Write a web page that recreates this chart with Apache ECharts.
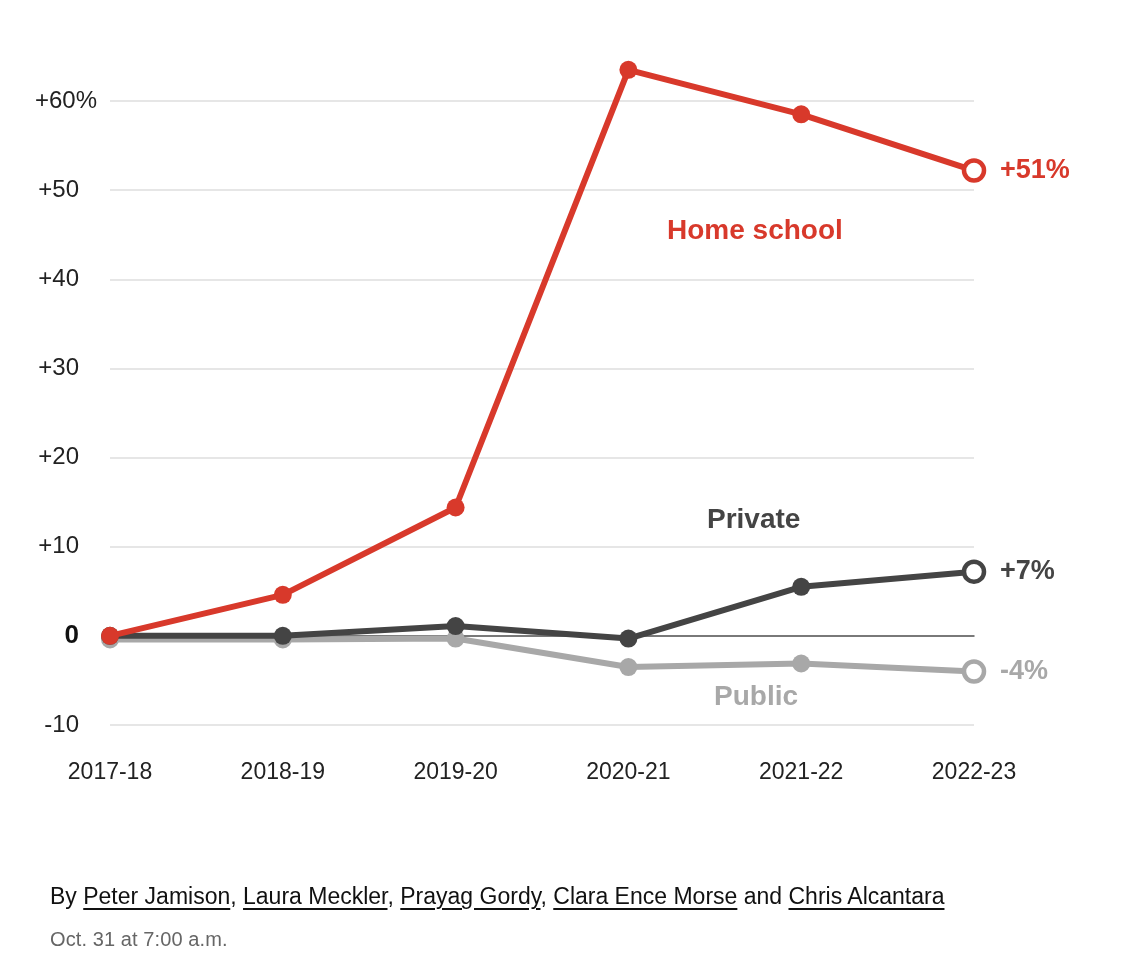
<!DOCTYPE html>
<html>
<head>
<meta charset="utf-8">
<script src="https://cdn.jsdelivr.net/npm/echarts@6/dist/echarts.min.js"></script>
<style>
  html, body { margin: 0; padding: 0; background: #fff; }
  #chart { position: absolute; left: 0; top: 0; width: 1146px; height: 962px; }
  #byline { position: absolute; left: 50px; top: 883px; font-family: "Liberation Sans", Arial, sans-serif; font-size: 23px; color: #111; letter-spacing: 0px; white-space: nowrap; }
  #byline a { color: #111; text-decoration: underline; text-underline-offset: 4px; text-decoration-thickness: 1.5px; }
  #date { position: absolute; left: 50px; top: 928px; font-family: "Liberation Sans", Arial, sans-serif; font-size: 20px; color: #666; letter-spacing: 0.1px; white-space: nowrap; }
</style>
</head>
<body>
<div id="chart"></div>
<div id="byline">By <a>Peter Jamison</a>, <a>Laura Meckler</a>, <a>Prayag Gordy</a>, <a>Clara Ence Morse</a> and <a>Chris Alcantara</a></div>
<div id="date">Oct. 31 at 7:00 a.m.</div>
<script>
// ---- data ----
const categories = ['2017-18', '2018-19', '2019-20', '2020-21', '2021-22', '2022-23'];
const homeSchool = [0, 4.6, 14.4, 63.5, 58.5, 52.2];
const privateSchool = [0, 0, 1.1, -0.3, 5.5, 7.2];
const publicSchool = [-0.4, -0.4, -0.3, -3.5, -3.1, -4.0];
const seriesNames = ['Home school', 'Private', 'Public'];
const endLabels = ['+51%', '+7%', '-4%'];
const yTickValues = [-10, 0, 10, 20, 30, 40, 50, 60];
const yTickLabels = ['-10', '0', '+10', '+20', '+30', '+40', '+50', '+60%'];

// ---- styles ----
const colors = ['#d8392b', '#444444', '#a8a8a8'];
const font = '"Liberation Sans", Arial, sans-serif';

function makeData(vals, color) {
  return vals.map((v, i) => {
    if (i === vals.length - 1) {
      return { value: v, symbolSize: 20, itemStyle: { color: '#fff', borderColor: color, borderWidth: 4.5 } };
    }
    return { value: v, symbolSize: 18, itemStyle: { color: color, borderWidth: 0 } };
  });
}

function makeSeries(name, vals, color, endText, z) {
  return {
    name: name,
    type: 'line',
    data: makeData(vals, color),
    symbol: 'circle',
    clip: false,
    z: z,
    lineStyle: { color: color, width: 6 },
    itemStyle: { color: color },
    emphasis: { disabled: true },
    endLabel: {
      show: true,
      formatter: endText,
      color: color,
      fontFamily: font,
      fontWeight: 'bold',
      fontSize: 27,
      distance: 26
    }
  };
}

const chart = echarts.init(document.getElementById('chart'), null, { renderer: 'canvas' });

const option = {
  animation: false,
  backgroundColor: '#fff',
  grid: { left: 110, right: 172, top: 101, bottom: 237, containLabel: false },
  xAxis: {
    type: 'category',
    data: categories,
    boundaryGap: false,
    axisLine: { show: true, onZero: true, lineStyle: { color: '#555', width: 1.5 } },
    axisTick: { show: false },
    splitLine: { show: false },
    axisLabel: {
      color: '#222',
      fontFamily: font,
      fontSize: 23,
      margin: 36,
      interval: 0
    }
  },
  yAxis: {
    type: 'value',
    min: -10,
    max: 60,
    interval: 10,
    axisLine: { show: false },
    axisTick: { show: false },
    splitLine: { show: true, lineStyle: { color: '#e6e6e6', width: 2 } },
    axisLabel: {
      align: 'right',
      margin: 13,
      color: '#222',
      fontFamily: font,
      fontSize: 24,
      formatter: function (v) {
        const idx = yTickValues.indexOf(v);
        const txt = idx >= 0 ? yTickLabels[idx] : '';
        if (txt.endsWith('%')) return '{n|' + txt + '}';
        if (v === 0) return '{z|' + txt + '}';
        return '{r|' + txt + '}';
      },
      rich: {
        n: { fontFamily: font, fontSize: 24, color: '#222' },
        r: { fontFamily: font, fontSize: 24, color: '#222', padding: [0, 18, 0, 0] },
        z: { fontFamily: font, fontSize: 26, color: '#111', fontWeight: 'bold', padding: [0, 18, 0, 0] }
      }
    }
  },
  series: [
    makeSeries(seriesNames[2], publicSchool, colors[2], endLabels[2], 2),
    makeSeries(seriesNames[1], privateSchool, colors[1], endLabels[1], 3),
    makeSeries(seriesNames[0], homeSchool, colors[0], endLabels[0], 4)
  ],
  graphic: [
    { type: 'text', left: 667, top: 217, style: { text: seriesNames[0], fill: colors[0], font: 'bold 28px ' + font } },
    { type: 'text', left: 707, top: 506, style: { text: seriesNames[1], fill: colors[1], font: 'bold 28px ' + font } },
    { type: 'text', left: 714, top: 683, style: { text: seriesNames[2], fill: colors[2], font: 'bold 28px ' + font } }
  ]
};

chart.setOption(option);
</script>
</body>
</html>
